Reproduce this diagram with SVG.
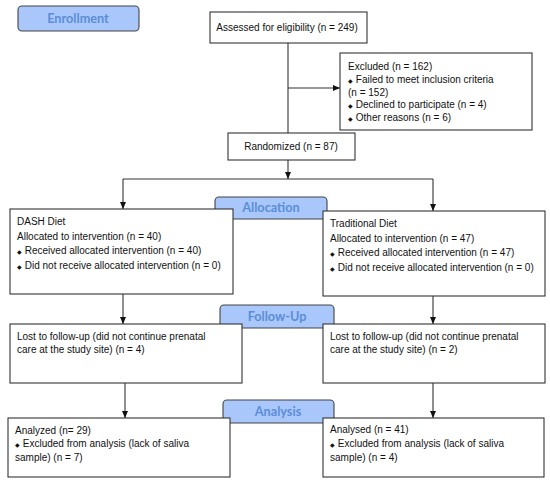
<svg xmlns="http://www.w3.org/2000/svg" width="550" height="483" viewBox="0 0 550 483">
<style>
.box{fill:#fff;stroke:#333;stroke-width:1.1}
.lab{fill:#a9c7fb;stroke:#444;stroke-width:1.1}
.lt{font-family:Lato,"Open Sans",sans-serif;font-weight:bold;font-size:12.7px;fill:#5b8ed6;text-anchor:middle}
.t{font-family:"Liberation Sans",Arial,sans-serif;font-size:10px;fill:#111}
.b{font-size:5.5px}
.ln{fill:none;stroke:#333;stroke-width:1.1}
</style>
<defs>
<marker id="ah" markerWidth="8" markerHeight="8" refX="7" refY="4" orient="auto" markerUnits="userSpaceOnUse">
<path d="M0,1 L7,4 L0,7 z" fill="#111"/>
</marker>
</defs>
<rect width="550" height="483" fill="#fff"/>
<g id="connectors">
<path class="ln" d="M288,43 V133"/>
<path class="ln" d="M288,88 H340" marker-end="url(#ah)"/>
<path class="ln" d="M288,160 V179" marker-end="url(#ah)"/>
<path class="ln" d="M123,179 H433"/>
<path class="ln" d="M123,179 V209" marker-end="url(#ah)"/>
<path class="ln" d="M433,179 V211" marker-end="url(#ah)"/>
<path class="ln" d="M123,294 V324" marker-end="url(#ah)"/>
<path class="ln" d="M433,296 V324" marker-end="url(#ah)"/>
<path class="ln" d="M125,383 V418" marker-end="url(#ah)"/>
<path class="ln" d="M433,383 V418" marker-end="url(#ah)"/>
</g>
<g id="enrollment">
<rect class="lab" x="18" y="6" width="121" height="25" rx="4"/>
<text class="lt" x="78" y="23">Enrollment</text>
</g>
<g id="assessed">
<rect class="box" x="210" y="12" width="157" height="31"/>
<text class="t" x="287" y="31" text-anchor="middle">Assessed for eligibility (n = 249)</text>
</g>
<g id="excluded">
<rect class="box" x="340" y="53" width="192" height="77"/>
<text class="t" x="348" y="70">Excluded (n = 162)</text>
<text class="t" x="348" y="83"><tspan class="b">◆</tspan>  Failed to meet inclusion criteria</text>
<text class="t" x="348" y="96">(n = 152)</text>
<text class="t" x="348" y="108"><tspan class="b">◆</tspan>  Declined to participate (n = 4)</text>
<text class="t" x="348" y="121"><tspan class="b">◆</tspan>  Other reasons (n = 6)</text>
</g>
<g id="randomized">
<rect class="box" x="228" y="133" width="127" height="27"/>
<text class="t" x="291" y="150" text-anchor="middle">Randomized (n = 87)</text>
</g>
<g id="allocation">
<rect class="lab" x="215" y="197" width="112" height="22" rx="4"/>
<text class="lt" x="271" y="212">Allocation</text>
</g>
<g id="dash">
<rect class="box" x="10" y="209" width="223" height="85"/>
<text class="t" x="17" y="225">DASH Diet</text>
<text class="t" x="17" y="240">Allocated to intervention (n = 40)</text>
<text class="t" x="17" y="254"><tspan class="b">◆</tspan> Received allocated intervention (n = 40)</text>
<text class="t" x="17" y="269"><tspan class="b">◆</tspan> Did not receive allocated intervention (n = 0)</text>
</g>
<g id="traditional">
<rect class="box" x="323" y="211" width="222" height="85"/>
<text class="t" x="330" y="227">Traditional Diet</text>
<text class="t" x="330" y="242">Allocated to intervention (n = 47)</text>
<text class="t" x="330" y="256"><tspan class="b">◆</tspan> Received allocated intervention (n = 47)</text>
<text class="t" x="330" y="271"><tspan class="b">◆</tspan> Did not receive allocated intervention (n = 0)</text>
</g>
<g id="followup">
<rect class="lab" x="220" y="305" width="114" height="23" rx="4"/>
<text class="lt" x="277" y="321">Follow-Up</text>
</g>
<g id="lost-left">
<rect class="box" x="10" y="324" width="232" height="59"/>
<text class="t" x="17" y="340">Lost to follow-up (did not continue prenatal</text>
<text class="t" x="17" y="353">care at the study site) (n = 4)</text>
</g>
<g id="lost-right">
<rect class="box" x="323" y="324" width="222" height="59"/>
<text class="t" x="330" y="340">Lost to follow-up (did not continue prenatal</text>
<text class="t" x="330" y="353">care at the study site) (n = 2)</text>
</g>
<g id="analysis">
<rect class="lab" x="223" y="400" width="111" height="23" rx="4"/>
<text class="lt" x="278" y="416">Analysis</text>
</g>
<g id="analyzed-left">
<rect class="box" x="8" y="418" width="222" height="59"/>
<text class="t" x="15" y="434">Analyzed (n= 29)</text>
<text class="t" x="15" y="447"><tspan class="b">◆</tspan> Excluded from analysis (lack of saliva</text>
<text class="t" x="15" y="461">sample) (n = 7)</text>
</g>
<g id="analyzed-right">
<rect class="box" x="323" y="418" width="221" height="59"/>
<text class="t" x="330" y="433">Analysed (n = 41)</text>
<text class="t" x="330" y="447"><tspan class="b">◆</tspan> Excluded from analysis (lack of saliva</text>
<text class="t" x="330" y="461">sample) (n = 4)</text>
</g>
</svg>
